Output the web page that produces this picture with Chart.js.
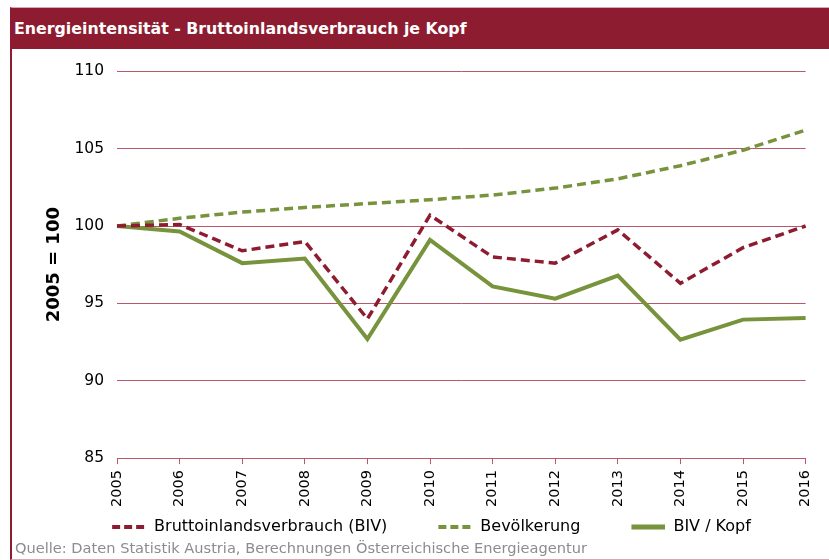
<!DOCTYPE html>
<html>
<head>
<meta charset="utf-8">
<script src="https://cdn.jsdelivr.net/npm/chart.js@4"></script>
<style>
  html, body { margin: 0; padding: 0; background: #fff; overflow: hidden; }
  #rahmen { position: absolute; left: 10px; top: 7px; width: 819px; height: 551px;
            border-left: 2px solid #8E1C30; border-bottom: 1px solid #d9a9b0; border-top: 1px solid #d9a9b0; }
  #kopf { position: absolute; left: 10px; top: 8px; width: 819px; height: 41px; background: #8E1C30;
          color: #fff; font: bold 15.8px "DejaVu Sans", sans-serif;
          line-height: 41px; padding-left: 4px; box-sizing: border-box; }
  #box { position: absolute; left: 12px; top: 49px; width: 817px; height: 496px; }
  #quelle { position: absolute; left: 15px; top: 539px; color: #8c8c8c;
            font: 14.6px "DejaVu Sans", sans-serif; }
</style>
</head>
<body>
<div id="rahmen"></div>
<div id="kopf">Energieintensität - Bruttoinlandsverbrauch je Kopf</div>
<div id="box"><canvas id="grafico"></canvas></div>
<div id="quelle">Quelle: Daten Statistik Austria, Berechnungen Österreichische Energieagentur</div>
<script>
let jahre = ["2005", "2006", "2007", "2008", "2009", "2010", "2011", "2012", "2013", "2014", "2015", "2016"];
let biv = [100, 100.1, 98.4, 99.0, 94.0, 100.7, 98.0, 97.6, 99.75, 96.3, 98.6, 100.0];
let bevoelkerung = [100, 100.5, 100.9, 101.2, 101.45, 101.7, 102.0, 102.45, 103.05, 103.9, 104.9, 106.2];
let bivKopf = [100, 99.65, 97.6, 97.9, 92.7, 99.1, 96.1, 95.3, 96.8, 92.65, 93.95, 94.05];
let yTicks = [85, 90, 95, 100, 105, 110];

let rot = "#8E1C30";
let gruen = "#77933C";
let gitter = "#b8586a";

// Legendensymbol: links frei (Abstand zum vorigen Eintrag), rechts die Linie
let luecke = 45;
let linie = 34;
function symbol(farbe, breite, strich) {
    let c = document.createElement("canvas");
    c.width = luecke + linie;
    c.height = 8;
    let g = c.getContext("2d");
    g.strokeStyle = farbe;
    g.lineWidth = breite;
    g.setLineDash(strich);
    g.beginPath();
    g.moveTo(luecke, 4);
    g.lineTo(luecke + linie, 4);
    g.stroke();
    return c;
}

let ctx = document.getElementById("grafico").getContext("2d");
Chart.defaults.font.family = "'DejaVu Sans', sans-serif";
Chart.defaults.color = "#000";

let grafico = new Chart(ctx, {
    type: "line",
    data: {
        labels: jahre,
        datasets: [{
            label: "Bruttoinlandsverbrauch (BIV)",
            data: biv,
            borderColor: rot,
            borderWidth: 3.5,
            borderDash: [9, 5],
            pointRadius: 0,
            pointStyle: symbol(rot, 4, [8, 4]),
            tension: 0,
            fill: false
        }, {
            label: "Bevölkerung",
            data: bevoelkerung,
            borderColor: gruen,
            borderWidth: 3.5,
            borderDash: [9, 5],
            pointRadius: 0,
            pointStyle: symbol(gruen, 4, [8, 4]),
            tension: 0,
            fill: false
        }, {
            label: "BIV / Kopf",
            data: bivKopf,
            borderColor: gruen,
            borderWidth: 4,
            pointRadius: 0,
            pointStyle: symbol(gruen, 5, []),
            tension: 0,
            fill: false
        }]
    },
    options: {
        responsive: true,
        maintainAspectRatio: false,
        animation: false,
        layout: { padding: { top: 22, right: 23, left: 0, bottom: 0 } },
        plugins: {
            tooltip: { enabled: false },
            legend: {
                position: "bottom",
                labels: {
                    usePointStyle: true,
                    pointStyleWidth: luecke + linie,
                    boxHeight: 16,
                    padding: 6,
                    font: { size: 16 },
                    color: "#000"
                }
            }
        },
        scales: {
            x: {
                offset: false,
                grid: { drawOnChartArea: false, color: gitter, tickLength: 6 },
                border: { display: true, color: gitter, width: 1 },
                ticks: { minRotation: 90, maxRotation: 90, padding: 6, font: { size: 14.5 }, color: "#000" }
            },
            y: {
                min: 85,
                max: 110,
                afterBuildTicks: (scale) => { scale.ticks = yTicks.map(v => ({ value: v })); },
                afterFit: (scale) => { scale.width = 105; },
                grid: { color: gitter, lineWidth: 1, drawTicks: false },
                border: { display: false },
                ticks: { padding: 13, font: { size: 15.5 }, color: "#000" },
                title: {
                    display: true,
                    text: "2005 = 100",
                    font: { size: 18, weight: "bold" },
                    color: "#000",
                    padding: { top: 32, bottom: 0 }
                }
            }
        }
    }
});
</script>
</body>
</html>
